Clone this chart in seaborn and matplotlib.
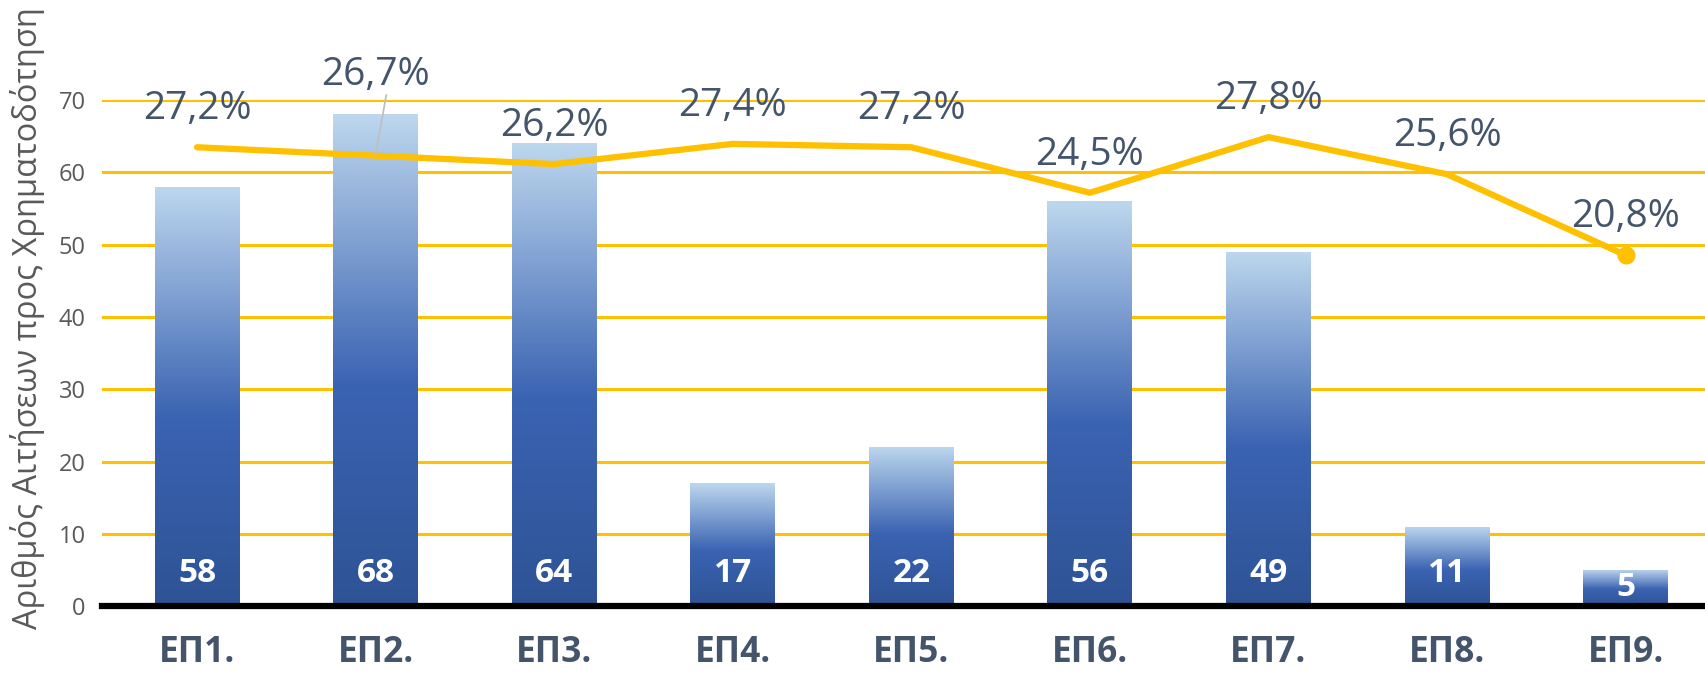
import numpy as np
import pandas as pd
import matplotlib
matplotlib.use("Agg")
import matplotlib.pyplot as plt
from matplotlib.colors import LinearSegmentedColormap
import seaborn as sns

# δεδομένα
categories = ["ΕΠ1.", "ΕΠ2.", "ΕΠ3.", "ΕΠ4.", "ΕΠ5.", "ΕΠ6.", "ΕΠ7.", "ΕΠ8.", "ΕΠ9."]
applications = [58, 68, 64, 17, 22, 56, 49, 11, 5]
pct = [27.2, 26.7, 26.2, 27.4, 27.2, 24.5, 27.8, 25.6, 20.8]
pct_labels = ["27,2%", "26,7%", "26,2%", "27,4%", "27,2%", "24,5%", "27,8%", "25,6%", "20,8%"]

df = pd.DataFrame({"cat": categories, "n": applications, "pct": pct})

sns.set_style("white")
plt.rcParams["font.family"] = ["Open Sans", "DejaVu Sans"]

fig = plt.figure(figsize=(17.06, 6.78), dpi=100)
ax = fig.add_axes([0.060, 0.106, 0.940, 0.7465])

sns.barplot(data=df, x="cat", y="n", ax=ax, width=0.475, color="#4472C4",
            saturation=1, zorder=2)

# gradient στις μπάρες
cmap = LinearSegmentedColormap.from_list(
    "grad", [(0, "#2E5395"), (0.45, "#3A63B2"), (1, "#BDD7EE")])
grad = np.linspace(0, 1, 256).reshape(-1, 1)
for p in ax.patches:
    x0, y0 = p.get_x(), p.get_y()
    w, h = p.get_width(), p.get_height()
    p.set_facecolor("none")
    p.set_edgecolor("none")
    im = ax.imshow(grad, extent=[x0, x0 + w, y0, y0 + h], origin="lower",
                   cmap=cmap, aspect="auto", zorder=2)
    im.set_clip_path(p)

for i, v in enumerate(applications):
    ax.text(i, min(4.5, v * 0.52), str(v), ha="center", va="center",
            color="white", fontsize=24, fontweight="bold", zorder=5)

ax.set_xlim(-0.53, 8.45)
ax.set_ylim(0, 70)
ax.set_yticks(range(0, 71, 10))
ax.yaxis.grid(True, color="#FFC000", linewidth=2.2, zorder=0)
ax.set_axisbelow(True)
for s in ["top", "right", "left"]:
    ax.spines[s].set_visible(False)
ax.spines["bottom"].set_color("black")
ax.spines["bottom"].set_linewidth(4.5)
ax.spines["bottom"].set_zorder(6)
ax.tick_params(axis="y", length=0, labelsize=17, labelcolor="#595959", pad=12)
ax.tick_params(axis="x", length=0, labelsize=25.5, labelcolor="#44546A", pad=21)
for t in ax.get_xticklabels():
    t.set_fontweight("bold")
ax.set_xlabel("")
ax.set_ylabel("Αριθμός Αιτήσεων προς Χρηματοδότηση", fontsize=23.5,
              color="#595959")
ax.yaxis.set_label_coords(-0.0355, 0.57)

# δευτερεύων άξονας για το ποσοστό
ax2 = ax.twinx()
sns.lineplot(x=np.arange(len(pct)), y=np.array(pct) / 100, ax=ax2,
             color="#FFC000", linewidth=4.5, zorder=4)
ax2.plot(len(pct) - 1, pct[-1] / 100, "o", color="#FFC000", markersize=12,
         zorder=4)
ax2.set_ylim(0, 0.30)
ax2.set_yticks([])
for s in ax2.spines.values():
    s.set_visible(False)

offsets = [0.0226, 0.048, 0.0226, 0.0226, 0.0226, 0.0226, 0.0226, 0.0226, 0.0226]
for i, (v, lab) in enumerate(zip(pct, pct_labels)):
    ax2.text(i, v / 100 + offsets[i], lab, ha="center", va="center",
             fontsize=28, color="#44546A", clip_on=False, zorder=6)
# leader line for ΕΠ2
ax2.plot([1.06, 1.0], [0.267 + 0.036, 0.2675], color="#BFBFBF",
         linewidth=1.3, zorder=5, clip_on=False)

fig.savefig("out.png", dpi=100)
